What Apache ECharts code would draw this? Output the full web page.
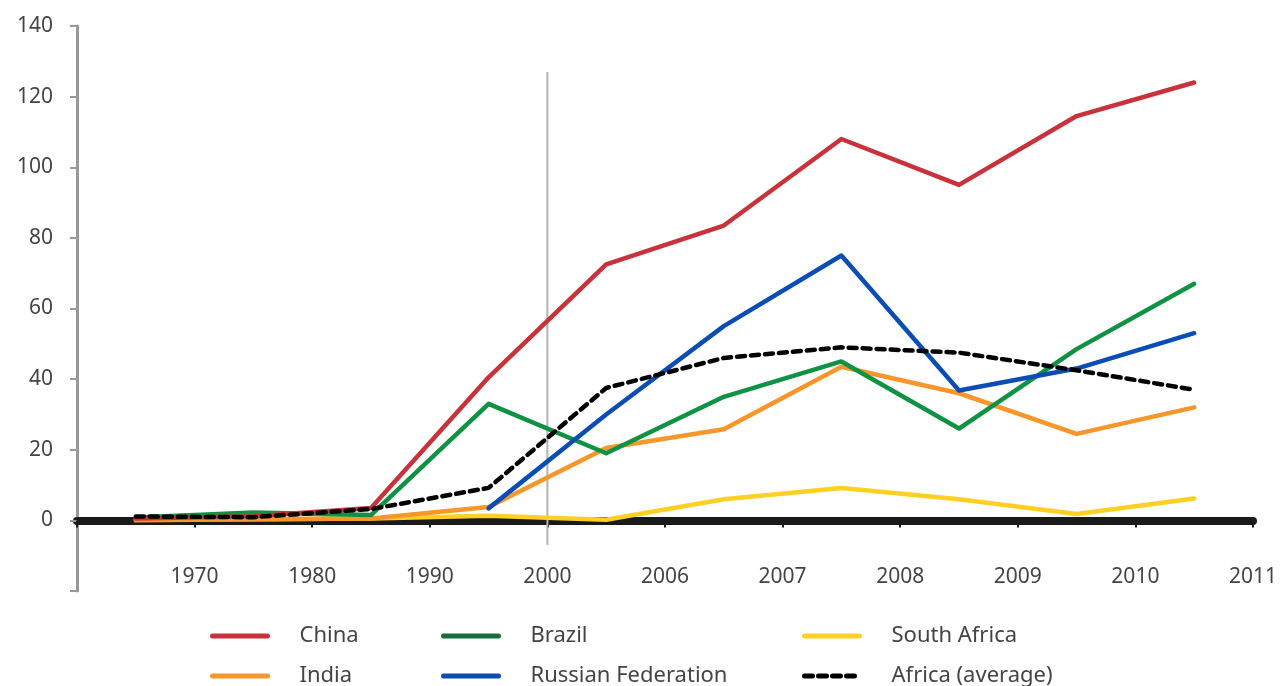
<!DOCTYPE html>
<html>
<head>
<meta charset="utf-8">
<script src="https://cdn.jsdelivr.net/npm/echarts@6/dist/echarts.min.js"></script>
<style>html,body{margin:0;padding:0;background:#fff}#c{width:1280px;height:686px}</style>
</head>
<body>
<div id="c"></div>
<script>
// Tick labels at category boundaries (right edge of each slot)
const tickLabels = ['1970', '1980', '1990', '2000', '2006', '2007', '2008', '2009', '2010', '2011'];
// Values, one per slot (10 slots)
const china       = [0.5, 1.2, 3.5, 40.5, 72.5, 83.5, 108, 95, 114.5, 124];
const brazil      = [0.8, 2.2, 1.5, 33, 19, 35, 45, 26, 48.5, 67];
const india       = [0, 0.3, 0.5, 3.8, 20.5, 25.8, 43.5, 36, 24.5, 32];
const russia      = [null, null, null, 3.4, 30, 55, 75, 36.8, 43, 53];
const southAfrica = [0.2, 0.3, 0.5, 1.3, 0.2, 6, 9.2, 6, 1.8, 6.2];
const africaAvg   = [1.1, 0.9, 3.2, 9.2, 37.5, 46, 49, 47.5, 42.5, 37];
// Reference divider: slot boundary index, top value, bottom value
const divider = { at: 4, top: 127, bottom: -7 };

const toPts = arr => arr.map((v, i) => [i + 0.5, v]);

const font = 'Noto Sans';
const txt = '#444';

const chart = echarts.init(document.getElementById('c'));
const mk = (name, data, color, extra) => Object.assign({
  name, type: 'line', data: toPts(data), symbol: 'none', showSymbol: false,
  lineStyle: { color, width: 4.5, cap: 'round', join: 'round' },
  itemStyle: { color }, animation: false, connectNulls: false, z: 3
}, extra || {});

chart.setOption({
  animation: false,
  grid: { left: 77, right: 23, top: 26, bottom: 95, containLabel: false },
  xAxis: {
    type: 'value', min: 0, max: tickLabels.length, interval: 1,
    axisLine: { onZero: true, lineStyle: { color: '#1a1a1a', width: 8 } },
    axisTick: { show: true, length: 7, lineStyle: { color: '#1a1a1a', width: 2 } },
    axisLabel: {
      margin: -24, fontFamily: font, fontSize: 21, color: txt,
      formatter: v => (v >= 1 ? tickLabels[v - 1] : '')
    },
    splitLine: { show: false }
  },
  yAxis: {
    type: 'value', min: -20, max: 140, interval: 20,
    axisLine: { show: true, onZero: false, lineStyle: { color: '#999', width: 3 } },
    axisTick: { show: true, length: 7, lineStyle: { color: '#999', width: 2 } },
    axisLabel: {
      margin: 24, fontFamily: font, fontSize: 21, color: txt,
      formatter: v => (v < 0 ? '' : String(v))
    },
    splitLine: { show: false }
  },
  legend: [
    { data: ['China', 'India'], left: 210 },
    { data: [{ name: 'Brazil', lineStyle: { color: '#176d3a' } }, 'Russian Federation'], left: 441 },
    { data: ['South Africa', 'Africa (average)'], left: 802 }
  ].map(l => Object.assign({
    orient: 'vertical', top: 624, height: 80, padding: 0,
    itemWidth: 55, itemHeight: 14, itemGap: 16,
    itemStyle: { color: 'rgba(0,0,0,0)', borderWidth: 0 },
    lineStyle: { width: 5 },
    textStyle: { fontFamily: font, fontSize: 22, lineHeight: 24, color: txt, padding: [0, 0, 0, 27] },
    selectedMode: false
  }, l)),
  series: [
    {
      name: 'divider', type: 'line', symbol: 'none', silent: true, animation: false,
      data: [[divider.at, divider.top], [divider.at, divider.bottom]],
      lineStyle: { color: '#b3b3b3', width: 2 }, z: 1
    },
    mk('South Africa', southAfrica, '#fdd023'),
    mk('India', india, '#f7962a'),
    mk('Brazil', brazil, '#109244'),
    mk('China', china, '#c8323a'),
    mk('Russian Federation', russia, '#0a4db4'),
    mk('Africa (average)', africaAvg, '#000', { lineStyle: { color: '#000', width: 4.5, type: [8, 6], cap: 'round' } })
  ]
});
</script>
</body>
</html>
